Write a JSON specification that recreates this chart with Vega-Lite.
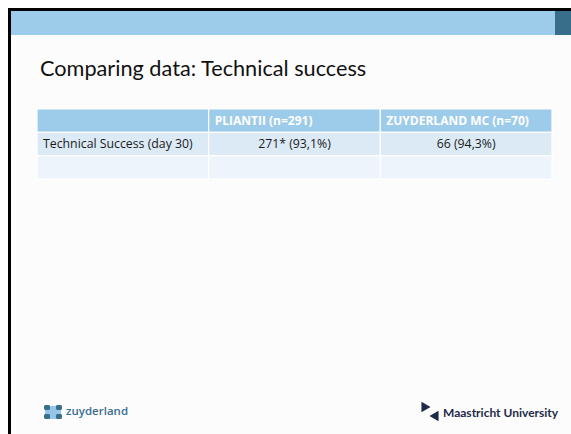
{
  "$schema": "https://vega.github.io/schema/vega-lite/v6.json",
  "width": 515,
  "height": 70,
  "autosize": {"type": "none"},
  "padding": {"left": 37, "top": 109, "right": 19, "bottom": 255},
  "background": "#ffffff",
  "config": {"view": {"stroke": null}},
  "datasets": {
    "cells": [
      {"row": "header", "col": "label", "text": ""},
      {"row": "header", "col": "pliant", "text": "PLIANTII (n=291)"},
      {"row": "header", "col": "zuyderland", "text": "ZUYDERLAND MC (n=70)"},
      {"row": "success", "col": "label", "text": "Technical Success (day 30)"},
      {"row": "success", "col": "pliant", "text": "271* (93,1%)"},
      {"row": "success", "col": "zuyderland", "text": "66 (94,3%)"},
      {"row": "empty", "col": "label", "text": ""},
      {"row": "empty", "col": "pliant", "text": ""},
      {"row": "empty", "col": "zuyderland", "text": ""}
    ]
  },
  "layer": [
    {
      "data": {"values": [{}]},
      "encoding": {
        "x": {"type": "quantitative", "scale": {"domain": [37, 552], "range": [0, 515], "zero": false, "nice": false}, "axis": null},
        "y": {"type": "quantitative", "scale": {"domain": [109, 179], "range": [0, 70], "zero": false, "nice": false}, "axis": null}
      },
      "layer": [
        {"mark": {"type": "rect", "color": "#fcfcfc", "clip": false},
         "encoding": {"x": {"datum": 11}, "x2": {"datum": 571}, "y": {"datum": 11}, "y2": {"datum": 434}}},
        {"mark": {"type": "rect", "color": "#9dcbea", "clip": false},
         "encoding": {"x": {"datum": 11}, "x2": {"datum": 555}, "y": {"datum": 11}, "y2": {"datum": 35}}},
        {"mark": {"type": "rect", "color": "#386e8a", "clip": false},
         "encoding": {"x": {"datum": 555}, "x2": {"datum": 571}, "y": {"datum": 11}, "y2": {"datum": 35}}},
        {"mark": {"type": "rect", "color": "#000000", "clip": false},
         "encoding": {"x": {"datum": 8}, "x2": {"datum": 571}, "y": {"datum": 8}, "y2": {"datum": 11}}},
        {"mark": {"type": "rect", "color": "#000000", "clip": false},
         "encoding": {"x": {"datum": 8}, "x2": {"datum": 11}, "y": {"datum": 8}, "y2": {"datum": 434}}},
        {"mark": {"type": "text", "align": "left", "baseline": "alphabetic", "font": "Lato", "fontSize": 21.7, "color": "#111111", "text": "Comparing data: Technical success"},
         "encoding": {"x": {"datum": 40}, "y": {"datum": 76}}},
        {"mark": {"type": "rect", "color": "#93c6e8", "clip": false},
         "encoding": {"x": {"datum": 45}, "x2": {"datum": 61}, "y": {"datum": 406}, "y2": {"datum": 419}}},
        {"mark": {"type": "rect", "color": "#3a6e8c", "cornerRadius": 1.5, "clip": false},
         "encoding": {"x": {"datum": 44}, "x2": {"datum": 50}, "y": {"datum": 405}, "y2": {"datum": 410}}},
        {"mark": {"type": "rect", "color": "#3a6e8c", "cornerRadius": 1.5, "clip": false},
         "encoding": {"x": {"datum": 56}, "x2": {"datum": 62}, "y": {"datum": 405}, "y2": {"datum": 410}}},
        {"mark": {"type": "rect", "color": "#3a6e8c", "cornerRadius": 1.5, "clip": false},
         "encoding": {"x": {"datum": 44}, "x2": {"datum": 50}, "y": {"datum": 414}, "y2": {"datum": 419}}},
        {"mark": {"type": "rect", "color": "#3a6e8c", "cornerRadius": 1.5, "clip": false},
         "encoding": {"x": {"datum": 56}, "x2": {"datum": 62}, "y": {"datum": 414}, "y2": {"datum": 419}}},
        {"mark": {"type": "text", "align": "left", "baseline": "middle", "font": "Open Sans", "fontSize": 11.5, "fontWeight": 600, "color": "#3b6e8f", "text": "zuyderland"},
         "encoding": {"x": {"datum": 66}, "y": {"datum": 412}}},
        {"mark": {"type": "point", "shape": "triangle-right", "filled": true, "size": 110, "color": "#1e2a48", "opacity": 1},
         "encoding": {"x": {"datum": 426}, "y": {"datum": 407}}},
        {"mark": {"type": "point", "shape": "triangle-left", "filled": true, "size": 110, "color": "#1e2a48", "opacity": 1},
         "encoding": {"x": {"datum": 434}, "y": {"datum": 416}}},
        {"mark": {"type": "text", "align": "left", "baseline": "middle", "font": "Lato", "fontSize": 12, "fontWeight": "bold", "color": "#1e2a48", "text": "Maastricht University"},
         "encoding": {"x": {"datum": 443}, "y": {"datum": 413}}}
      ]
    },
    {
      "data": {"name": "cells"},
      "encoding": {
        "x": {"field": "col", "type": "nominal", "scale": {"domain": ["label", "pliant", "zuyderland"], "paddingInner": 0, "paddingOuter": 0}, "axis": null},
        "y": {"field": "row", "type": "nominal", "scale": {"domain": ["header", "success", "empty"], "paddingInner": 0, "paddingOuter": 0}, "axis": null}
      },
      "layer": [
        {"mark": {"type": "rect", "stroke": "#ffffff", "strokeWidth": 1.2},
         "encoding": {"color": {"field": "row", "type": "nominal", "scale": {"domain": ["header", "success", "empty"], "range": ["#9dcbea", "#dceaf6", "#edf4fb"]}, "legend": null}}},
        {"transform": [{"filter": "datum.row === 'header'"}],
         "mark": {"type": "text", "align": "left", "baseline": "middle", "dx": 6, "font": "Open Sans", "fontSize": 12, "fontWeight": "bold", "color": "#ffffff"},
         "encoding": {"x": {"field": "col", "type": "nominal", "bandPosition": 0}, "text": {"field": "text"}}},
        {"transform": [{"filter": "datum.row === 'success' && datum.col === 'label'"}],
         "mark": {"type": "text", "align": "left", "baseline": "middle", "dx": 6, "font": "Open Sans", "fontSize": 12.3, "color": "#1a1a1a"},
         "encoding": {"x": {"field": "col", "type": "nominal", "bandPosition": 0}, "text": {"field": "text"}}},
        {"transform": [{"filter": "datum.row === 'success' && datum.col !== 'label'"}],
         "mark": {"type": "text", "align": "center", "baseline": "middle", "font": "Open Sans", "fontSize": 12.3, "color": "#1a1a1a"},
         "encoding": {"text": {"field": "text"}}}
      ]
    }
  ],
  "resolve": {"scale": {"x": "independent", "y": "independent", "color": "independent"}}
}
